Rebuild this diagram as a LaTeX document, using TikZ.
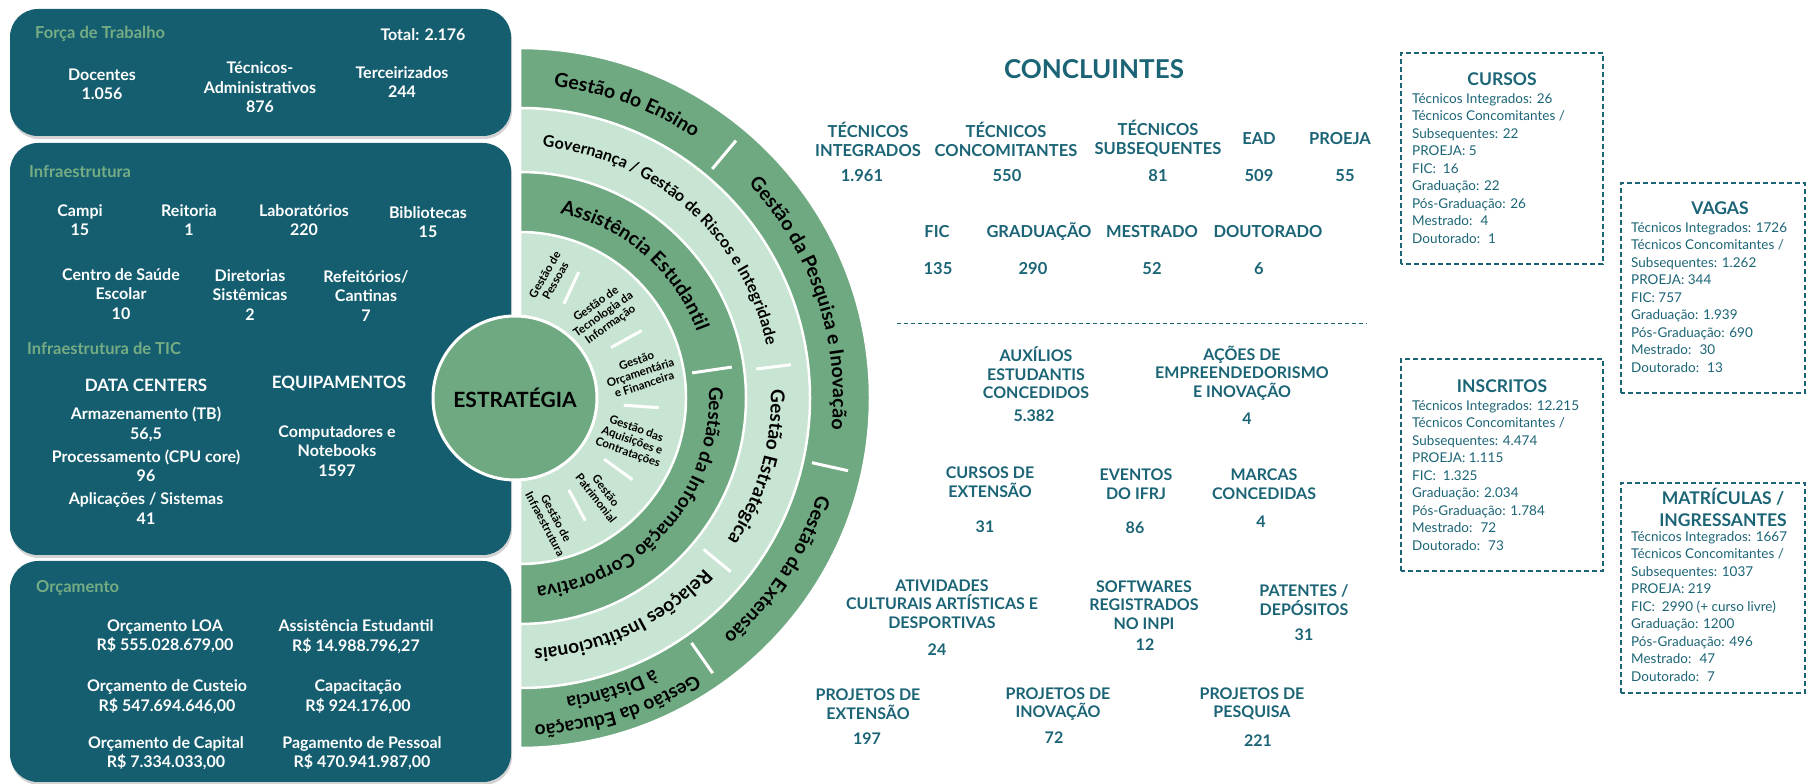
\documentclass[tikz,border=0pt]{standalone}
\usepackage{fontspec}
\setmainfont{Lato}
\usetikzlibrary{decorations.text,shadows}

\definecolor{painel}{HTML}{145E6F}
\definecolor{verdetit}{HTML}{76AC84}
\definecolor{anelesc}{HTML}{6FA982}
\definecolor{anelcla}{HTML}{C8E4D2}
\definecolor{azulpet}{HTML}{1B6476}

\newcommand{\tamfonte}[2]{\fontsize{#1}{#2}\selectfont}
\newcommand{\fonteA}{\fontsize{19.5}{19.5}\selectfont\bfseries}
\newcommand{\fonteB}{\fontsize{16}{16}\selectfont\bfseries}
\newcommand{\fonteC}{\fontsize{19}{19}\selectfont\bfseries}

\tikzset{
  painelbox/.style={fill=painel, rounded corners=28pt, drop shadow={opacity=0.35, shadow xshift=1pt, shadow yshift=-3pt}},
  paineltit/.style={anchor=west, inner sep=0pt, text=verdetit, font=\tamfonte{16.5}{19}\bfseries},
  painelitem/.style={align=center, inner sep=0pt, text=white, font=\tamfonte{16}{19.5}\bfseries},
  anel/.style={draw=white, line width=2.5pt},
  divisor/.style={draw=white, line width=3pt},
  textoanel/.style={decorate, decoration={text along path, text align=center, text color=black, text={#1}}},
  anelint/.style={align=center, inner sep=0pt, font=\tamfonte{11.5}{12.5}\bfseries},
  conctit/.style={inner sep=0pt, text=azulpet, font=\tamfonte{26}{26}\bfseries},
  conclabel/.style={align=center, inner sep=0pt, text=azulpet, font=\tamfonte{16.5}{19}\bfseries},
  estlabel/.style={align=center, inner sep=0pt, text=azulpet, font=\tamfonte{16}{18.5}\bfseries},
  separador/.style={draw=azulpet, line width=1pt, dash pattern=on 4pt off 3pt},
  caixa/.style={draw=azulpet, line width=1.1pt, dash pattern=on 5pt off 3pt},
  caixatit/.style={align=center, inner sep=0pt, text=azulpet, font=\tamfonte{17.5}{22}\bfseries},
  caixalista/.style={anchor=north west, align=left, inner sep=0pt, text=azulpet, font=\tamfonte{13.5}{17.5}}
}

\begin{document}
\begin{tikzpicture}[x=1pt,y=1pt]
\useasboundingbox (0,0) rectangle (1808,784);

\fill[painelbox] (10,648) rectangle (511,775);
\fill[painelbox] (10,229) rectangle (511,641);
\fill[painelbox] (10,2) rectangle (511,223);

\node[paineltit] (ftit) at (35,750) {Força de Trabalho};
\node[painelitem] (ftotal) at (423,749) {Total: 2.176};
\node[painelitem] (docentes) at (102,699.5) {Docentes\\1.056};
\node[painelitem] (tecadm) at (260,696.5) {Técnicos-\\Administrativos\\876};
\node[painelitem] (terceir) at (402,702) {Terceirizados\\244};

\node[paineltit] (itit) at (29,612) {Infraestrutura};
\node[painelitem] (campi) at (80,564) {Campi\\15};
\node[painelitem] (reitoria) at (189,564) {Reitoria\\1};
\node[painelitem] (labs) at (304,564) {Laboratórios\\220};
\node[painelitem] (biblio) at (428,562) {Bibliotecas\\15};
\node[painelitem] (saude) at (121,490) {Centro de Saúde\\Escolar\\10};
\node[painelitem] (diret) at (250,489) {Diretorias\\Sistêmicas\\2};
\node[painelitem] (refeit) at (366,488) {Refeitórios/\\Cantinas\\7};
\node[paineltit] (tictit) at (27,436) {Infraestrutura de TIC};
\node[painelitem, font=\tamfonte{17}{19.5}\bfseries] (dc) at (146,399) {DATA CENTERS};
\node[painelitem, font=\tamfonte{17}{19.5}\bfseries] (equip) at (339,401) {EQUIPAMENTOS};
\node[painelitem] (armaz) at (146,359.5) {Armazenamento (TB)\\56,5};
\node[painelitem] (proc) at (146,318) {Processamento (CPU core)\\96};
\node[painelitem] (aplic) at (146,275.5) {Aplicações / Sistemas\\41};
\node[painelitem] (comput) at (337,333) {Computadores e\\Notebooks\\1597};

\node[paineltit] (otit) at (36,196) {Orçamento};
\node[painelitem] (loa) at (165,147.5) {Orçamento LOA\\R\$ 555.028.679,00};
\node[painelitem] (assist) at (356,147.5) {Assistência Estudantil\\R\$ 14.988.796,27};
\node[painelitem] (custeio) at (167,87.5) {Orçamento de Custeio\\R\$ 547.694.646,00};
\node[painelitem] (capacit) at (358,87.5) {Capacitação\\R\$ 924.176,00};
\node[painelitem] (capital) at (166,31) {Orçamento de Capital\\R\$ 7.334.033,00};
\node[painelitem] (pessoal) at (362,31) {Pagamento de Pessoal\\R\$ 470.941.987,00};

\coordinate (C) at (520,386);
\path[fill=anelesc, anel] ([shift={(-90:350)}]C) arc[start angle=-90, end angle=90, radius=350] -- cycle;
\path[fill=anelcla, anel] ([shift={(-90:290)}]C) arc[start angle=-90, end angle=90, radius=290] -- cycle;
\path[fill=anelesc, anel] ([shift={(-90:226)}]C) arc[start angle=-90, end angle=90, radius=226] -- cycle;
\path[fill=anelcla, anel] ([shift={(-90:166)}]C) arc[start angle=-90, end angle=90, radius=166] -- cycle;

\draw[divisor] ([shift={(50:299)}]C) -- ([shift={(50:336)}]C);
\draw[divisor] ([shift={(-12.5:299)}]C) -- ([shift={(-12.5:336)}]C);
\draw[divisor] ([shift={(-55:299)}]C) -- ([shift={(-55:336)}]C);
\draw[divisor] ([shift={(7:238)}]C) -- ([shift={(7:273)}]C);
\draw[divisor] ([shift={(-39.5:238)}]C) -- ([shift={(-39.5:273)}]C);
\draw[divisor] ([shift={(8.3:174)}]C) -- ([shift={(8.3:214)}]C);
\draw[divisor] ([shift={(65:104)}]C) -- ([shift={(65:139)}]C);
\draw[divisor] ([shift={(29:104)}]C) -- ([shift={(29:139)}]C);
\draw[divisor] ([shift={(-4:104)}]C) -- ([shift={(-4:139)}]C);
\draw[divisor] ([shift={(-36:104)}]C) -- ([shift={(-36:139)}]C);
\draw[divisor] ([shift={(-62:104)}]C) -- ([shift={(-62:139)}]C);

\path[textoanel={|\fonteA|Gestão do Ensino}] ([shift={(90:313)}]C) arc[start angle=90, end angle=50, radius=313];
\path[textoanel={|\fonteA|Gestão da Pesquisa e Inovação}] ([shift={(50:313)}]C) arc[start angle=50, end angle=-12.5, radius=313];
\path[textoanel={|\fonteA|Gestão da Extensão}] ([shift={(-12.5:313)}]C) arc[start angle=-12.5, end angle=-55, radius=313];
\path[textoanel={|\fonteC|Gestão da Educação}] ([shift={(-55:327)}]C) arc[start angle=-55, end angle=-90, radius=327];
\path[textoanel={|\fonteC|à Distância}] ([shift={(-55:303)}]C) arc[start angle=-55, end angle=-90, radius=303];
\path[textoanel={|\fonteB|Governança / Gestão de Riscos e Integridade}] ([shift={(90:252)}]C) arc[start angle=90, end angle=7, radius=252];
\path[textoanel={|\fonteC|Gestão Estratégica}] ([shift={(7:251)}]C) arc[start angle=7, end angle=-39.5, radius=251];
\path[textoanel={|\fonteC|Relações Institucionais}] ([shift={(-39.5:251)}]C) arc[start angle=-39.5, end angle=-90, radius=251];
\path[textoanel={|\fonteA|Assistência Estudantil}] ([shift={(90:189)}]C) arc[start angle=90, end angle=8.3, radius=189];
\path[textoanel={|\fonteC|Gestão da Informação Corporativa}] ([shift={(8.3:189)}]C) arc[start angle=8.3, end angle=-90, radius=189];

\node[anelint, rotate=60] (pessoas) at ([shift={(76:124)}]C) {Gestão de\\Pessoas};
\node[anelint, rotate=35] (ti) at ([shift={(45:118)}]C) {Gestão de\\Tecnologia da\\Informação};
\node[anelint, rotate=18] (orcam) at ([shift={(12:123)}]C) {Gestão\\Orçamentária\\e Financeira};
\node[anelint, rotate=-20] (aquis) at ([shift={(-21:120)}]C) {Gestão das\\Aquisições e\\Contratações};
\node[anelint, rotate=-52] (patrim) at ([shift={(-50:126)}]C) {Gestão\\Patrimonial};
\node[anelint, rotate=-62] (infra) at ([shift={(-76:127)}]C) {Gestão de\\Infraestrutura};

\node[circle, fill=anelesc, draw=white, line width=3pt, minimum size=164pt, inner sep=0pt, font=\tamfonte{21}{21}\bfseries] (estrategia) at (515,386) {ESTRATÉGIA};

\node[conctit] (concl) at (1094,715) {CONCLUINTES};
\node[conclabel] (tint) at (868,645) {TÉCNICOS\\INTEGRADOS};
\node[conclabel] (tintv) at (862,608) {1.961};
\node[conclabel] (tconc) at (1006,645) {TÉCNICOS\\CONCOMITANTES};
\node[conclabel] (tconcv) at (1007,608) {550};
\node[conclabel] (tsub) at (1158,645) {TÉCNICOS\\SUBSEQUENTES};
\node[conclabel] (tsubv) at (1158,608) {81};
\node[conclabel] (ead) at (1259,645) {EAD};
\node[conclabel] (eadv) at (1259,608) {509};
\node[conclabel] (proeja) at (1340,645) {PROEJA};
\node[conclabel] (proejav) at (1345,608) {55};
\node[conclabel] (fic) at (937,552) {FIC};
\node[conclabel] (ficv) at (938,515) {135};
\node[conclabel] (grad) at (1039,552) {GRADUAÇÃO};
\node[conclabel] (gradv) at (1033,515) {290};
\node[conclabel] (mest) at (1152,552) {MESTRADO};
\node[conclabel] (mestv) at (1152,515) {52};
\node[conclabel] (dout) at (1268,552) {DOUTORADO};
\node[conclabel] (doutv) at (1259,515) {6};

\coordinate (sepA) at (897,460);
\coordinate (sepB) at (1367,460);
\draw[separador] (sepA) -- (sepB);

\node[estlabel] (auxil) at (1036,411) {AUXÍLIOS\\ESTUDANTIS\\CONCEDIDOS};
\node[estlabel] (auxilv) at (1034,368) {5.382};
\node[estlabel] (acoes) at (1242,411) {AÇÕES DE\\EMPREENDEDORISMO\\E INOVAÇÃO};
\node[estlabel] (acoesv) at (1247,365) {4};
\node[estlabel] (cursext) at (990,302) {CURSOS DE\\EXTENSÃO};
\node[estlabel] (cursextv) at (985,257) {31};
\node[estlabel] (eventos) at (1136,300) {EVENTOS\\DO IFRJ};
\node[estlabel] (eventosv) at (1135,256) {86};
\node[estlabel] (marcas) at (1264,300) {MARCAS\\CONCEDIDAS};
\node[estlabel] (marcasv) at (1261,262) {4};
\node[estlabel] (ativ) at (942,180) {ATIVIDADES\\CULTURAIS ARTÍSTICAS E\\DESPORTIVAS};
\node[estlabel] (ativv) at (937,134) {24};
\node[estlabel] (softw) at (1144,179) {SOFTWARES\\REGISTRADOS\\NO INPI};
\node[estlabel] (softwv) at (1145,139) {12};
\node[estlabel] (patent) at (1304,184) {PATENTES /\\DEPÓSITOS};
\node[estlabel] (patentv) at (1304,149) {31};
\node[estlabel] (projext) at (868,80) {PROJETOS DE\\EXTENSÃO};
\node[estlabel] (projextv) at (867,45) {197};
\node[estlabel] (projinov) at (1058,80) {PROJETOS DE\\INOVAÇÃO};
\node[estlabel] (projinovv) at (1054,46) {72};
\node[estlabel] (projpesq) at (1252,80) {PROJETOS DE\\PESQUISA};
\node[estlabel] (projpesqv) at (1258,43) {221};

\draw[caixa] (1401,520) rectangle (1603,731);
\node[caixatit] (cursostit) at (1502,705) {CURSOS};
\node[caixalista] (cursoslista) at (1412,691) {Técnicos Integrados: 26\\Técnicos Concomitantes /\\Subsequentes: 22\\PROEJA: 5\\FIC:~ 16\\Graduação: 22\\Pós-Graduação: 26\\Mestrado:~ 4\\Doutorado:~ 1};

\draw[caixa] (1621,391) rectangle (1805,601);
\node[caixatit] (vagastit) at (1720,576) {VAGAS};
\node[caixalista] (vagaslista) at (1631,562) {Técnicos Integrados: 1726\\Técnicos Concomitantes /\\Subsequentes: 1.262\\PROEJA: 344\\FIC: 757\\Graduação: 1.939\\Pós-Graduação: 690\\Mestrado:~ 30\\Doutorado:~ 13};

\draw[caixa] (1401,213) rectangle (1603,425);
\node[caixatit] (inscrtit) at (1502,398) {INSCRITOS};
\node[caixalista] (inscrlista) at (1412,384) {Técnicos Integrados: 12.215\\Técnicos Concomitantes /\\Subsequentes: 4.474\\PROEJA: 1.115\\FIC:~ 1.325\\Graduação: 2.034\\Pós-Graduação: 1.784\\Mestrado:~ 72\\Doutorado:~ 73};

\draw[caixa] (1621,91) rectangle (1805,301);
\node[caixatit] (matrtit) at (1723,277) {MATRÍCULAS /\\INGRESSANTES};
\node[caixalista] (matrlista) at (1631,253) {Técnicos Integrados: 1667\\Técnicos Concomitantes /\\Subsequentes: 1037\\PROEJA: 219\\FIC:~ 2990 (+ curso livre)\\Graduação: 1200\\Pós-Graduação: 496\\Mestrado:~ 47\\Doutorado:~ 7};
\end{tikzpicture}
\end{document}
